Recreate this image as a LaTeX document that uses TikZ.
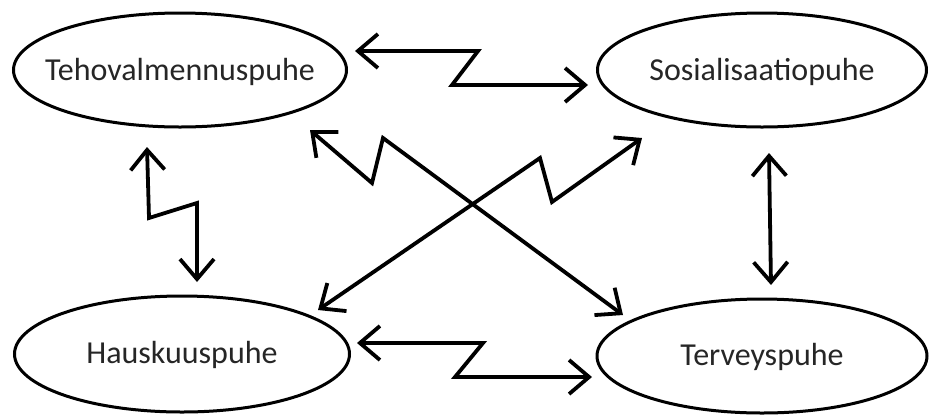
\documentclass[tikz,border=0pt]{standalone}
\usepackage{fontspec}
\setmainfont{Carlito}
\usetikzlibrary{shapes.geometric,arrows.meta}
\tikzset{
  ell/.style={ellipse,draw=black,line width=3pt,inner sep=0pt},
  txt/.style={inner sep=0pt,font=\fontsize{32}{36}\selectfont,text=black!85},
  arr/.style={line width=3.8pt,{Straight Barb[length=20pt,width=34pt]}-{Straight Barb[length=20pt,width=34pt]}}
}
\begin{document}
\begin{tikzpicture}[x=1pt,y=-1pt]
\useasboundingbox (0,0) rectangle (929,416);
\node[ell,minimum width=333pt,minimum height=114pt] (teho) at (180,70) {};
\node[ell,minimum width=329pt,minimum height=114pt] (sos) at (762,70) {};
\node[ell,minimum width=335pt,minimum height=116pt] (hau) at (182,354) {};
\node[ell,minimum width=330pt,minimum height=114pt] (ter) at (762,356) {};
\node[txt] (tehot) at ([yshift=-2pt]teho) {Tehovalmennuspuhe};
\node[txt] (sost) at ([yshift=-2pt]sos) {Sosialisaatiopuhe};
\node[txt] (haut) at ([yshift=-1pt]hau) {Hauskuuspuhe};
\node[txt] (tert) at ([yshift=-1pt]ter) {Terveyspuhe};
% arrow end points
\coordinate (a1) at (355,51);  \coordinate (a2) at (588,85);
\coordinate (b1) at (357,343); \coordinate (b2) at (592,377);
\coordinate (c1) at (147,147); \coordinate (c2) at (197,282);
\coordinate (d1) at (769,153); \coordinate (d2) at (771,285);
\coordinate (e1) at (310,130); \coordinate (e2) at (623,315);
\coordinate (f1) at (318,310); \coordinate (f2) at (642,138);
\draw[arr] (a1) -- (478,51) -- (452,85) -- (a2);
\draw[arr] (b1) -- (483,343) -- (455,377) -- (b2);
\draw[arr] (c1) -- (149,218) -- (197,203) -- (c2);
\draw[arr] (d1) -- (d2);
\draw[arr] (e1) -- (372,183) -- (383,138) -- (e2);
\draw[arr] (f1) -- (540,158) -- (552,202) -- (f2);
\end{tikzpicture}
\end{document}
